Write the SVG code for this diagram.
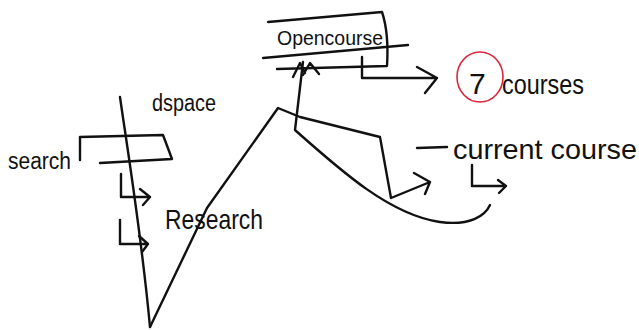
<svg xmlns="http://www.w3.org/2000/svg" width="639" height="330" viewBox="0 0 639 330">
<style>
.s{fill:none;stroke:#111;stroke-width:2.4;stroke-linecap:round;stroke-linejoin:round}
.t{font-family:"Liberation Sans",Arial,sans-serif;fill:#111}
</style>
<rect width="639" height="330" fill="#fff"/>
<g id="connectors" class="s">
<path d="M120,97 C126,140 141,230 150,327"/>
<path d="M121,174 L121,197 L150,197 M140,189 L150,197 L143,205"/>
<path d="M120,220 L120,244 L148,244 M139,236 L148,244 L142,252"/>
<path d="M150,327 L207,208 L278,108 L300,117 L380,137 L391,198 L430,182 M414,173 L430,182 L425,194"/>
<path d="M303,62 L295,130 C340,170 390,215 440,222 C470,226 485,216 490,205"/>
<path d="M293,77 L300,63 L305,73 M303,75 L310,63 L319,74"/>
<path d="M362,57 L362,78 L437,78 M417,67 L437,78 L425,93"/>
<path d="M417,148 L447,147"/>
<path d="M472,165 L472,186 L506,186 M498,180 L506,186 L499,193"/>
</g>
<g id="dspace"><text class="t" x="152" y="111" font-size="23" textLength="64" lengthAdjust="spacingAndGlyphs">dspace</text></g>
<g id="search">
<path class="s" d="M80,160 L80,137 L163,135 L172,159 L100,163"/>
<text class="t" x="8" y="169" font-size="23" textLength="63" lengthAdjust="spacingAndGlyphs">search</text>
</g>
<g id="research"><text class="t" x="165" y="229" font-size="28" textLength="98" lengthAdjust="spacingAndGlyphs">Research</text></g>
<g id="opencourse">
<path class="s" d="M268,22 L382,12 C388,30 388,50 387,66 L277,69 M263,58 L408,45"/>
<text class="t" x="277" y="45" font-size="21" textLength="106" lengthAdjust="spacingAndGlyphs">Opencourse</text>
</g>
<g id="courses">
<ellipse cx="480" cy="77" rx="23" ry="25" fill="none" stroke="#d8283a" stroke-width="1.6"/>
<text class="t" x="469" y="94" font-size="30">7</text>
<text class="t" x="502" y="94" font-size="28" textLength="82" lengthAdjust="spacingAndGlyphs">courses</text>
</g>
<g id="current-course"><text class="t" x="453" y="159" font-size="28" textLength="184" lengthAdjust="spacingAndGlyphs">current course</text></g>
</svg>
